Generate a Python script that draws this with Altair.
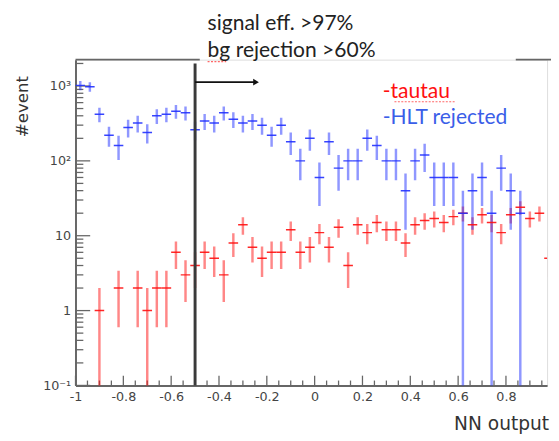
import altair as alt
import pandas as pd
import numpy as np

# ---------------- data ----------------
bin_centers = [-0.98, -0.94, -0.90, -0.86, -0.82, -0.78, -0.74, -0.70, -0.66, -0.62,
               -0.58, -0.54, -0.50, -0.46, -0.42, -0.38, -0.34, -0.30, -0.26, -0.22,
               -0.18, -0.14, -0.10, -0.06, -0.02, 0.02, 0.06, 0.10, 0.14, 0.18,
               0.22, 0.26, 0.30, 0.34, 0.38, 0.42, 0.46, 0.50, 0.54, 0.58,
               0.62, 0.66, 0.70, 0.74, 0.78, 0.82, 0.86, 0.90, 0.94, 0.98]
half_bin = 0.02

tautau = [0, 0, 1, 0, 2, 0, 2, 1, 2, 2,
          6, 3, 4, 6, 5, 3, 8, 14, 7, 5,
          6, 6, 12, 6, 7, 11, 7, 13, 4, 14,
          11, 15, 12, 12, 8, 14, 16, 17, 15, 18,
          20, 14, 19, 15, 11, 19, 24, 17, 20, 5]
tautau_err = [0, 0, 1, 0, 1.4, 0, 1.4, 1, 1.4, 1.4,
              2.4, 1.7, 2, 2.4, 2.2, 1.7, 2.8, 3.7, 2.6, 2.2,
              2.4, 2.4, 3.5, 2.4, 2.6, 3.3, 2.6, 3.6, 2, 3.7,
              3.3, 3.9, 3.5, 3.5, 2.8, 3.7, 4, 4.1, 3.9, 4.2,
              4.5, 3.7, 4.4, 3.9, 3.3, 4.4, 4.9, 4.1, 4.5, 2.2]

hlt = [1020, 980, 420, 220, 160, 280, 320, 240, 400, 420,
       460, 440, 260, 340, 320, 440, 360, 320, 340, 300,
       220, 300, 180, 100, 200, 60, 180, 80, 100, 100,
       200, 160, 100, 100, 40, 100, 120, 60, 60, 60,
       20, 40, 60, 20, 80, 40, 20, 0, 0, 0]
hlt_err = [143, 140, 92, 66, 57, 75, 80, 69, 89, 92,
           96, 94, 72, 82, 80, 94, 85, 80, 82, 77,
           66, 77, 60, 45, 63, 35, 60, 40, 45, 45,
           63, 57, 45, 45, 28, 45, 49, 35, 35, 35,
           20, 28, 35, 20, 40, 28, 20, 0, 0, 0]

series_names = ["tautau", "HLT rejected"]
series_colors = ["#ff1010", "#2030ff"]

x_major = [-1, -0.8, -0.6, -0.4, -0.2, 0, 0.2, 0.4, 0.6, 0.8]
x_minor = [-0.95, -0.9, -0.85, -0.75, -0.7, -0.65, -0.55, -0.5, -0.45, -0.35, -0.3, -0.25,
           -0.15, -0.1, -0.05, 0.05, 0.1, 0.15, 0.25, 0.3, 0.35, 0.45, 0.5, 0.55,
           0.65, 0.7, 0.75, 0.85, 0.9, 0.95]
y_major = [0.1, 1, 10, 100, 1000]
y_major_labels = ["10⁻¹", "1", "10", "10²", "10³"]
y_minor = [0.2, 0.3, 0.4, 0.5, 0.6, 0.7, 0.8, 0.9,
           2, 3, 4, 5, 6, 7, 8, 9,
           20, 30, 40, 50, 60, 70, 80, 90,
           200, 300, 400, 500, 600, 700, 800, 900, 2000]

cut_value = -0.5
arrow_end = -0.245

X_DOMAIN = [-1, 0.972]
Y_DOMAIN = [0.1, 2250]
W, H = 482, 333

# ---------------- tables ----------------
rows = []
for name, vals, errs in [(series_names[0], tautau, tautau_err), (series_names[1], hlt, hlt_err)]:
    for c, v, e in zip(bin_centers, vals, errs):
        if v > 0:
            lo = v - e
            rows.append({"series": name, "x": c, "xlo": c - half_bin, "xhi": c + half_bin,
                         "v": v, "lo": lo if lo > 0 else 0.01, "hi": v + e})
df = pd.DataFrame(rows)

xs = alt.Scale(domain=X_DOMAIN, nice=False, zero=False)
ys = alt.Scale(type="log", domain=Y_DOMAIN, nice=False)
col = alt.Color("series:N", scale=alt.Scale(domain=series_names, range=series_colors), legend=None)

label_expr = " : ".join(f"datum.value == {v} ? '{l}'" for v, l in zip(y_major, y_major_labels)) + " : ''"

x_axis = alt.Axis(values=x_major, labelExpr="toString(datum.value)", ticks=False, grid=False,
                  domainColor="#666", domainWidth=2, labelFont="DejaVu Sans", labelFontSize=13,
                  labelColor="#444", labelPadding=5, labelOverlap=False, labelFlush=False, title=None)
y_axis = alt.Axis(values=y_major, labelExpr=label_expr, ticks=False, grid=False,
                  domainColor="#666", domainWidth=2, labelFont="DejaVu Sans", labelFontSize=13,
                  labelColor="#444", labelPadding=5, labelOverlap=False, labelFlush=False, title=None)

base = alt.Chart(df)

vbars = base.mark_rule(clip=True, strokeWidth=2.5, opacity=0.5).encode(
    x=alt.X("x:Q", scale=xs, axis=x_axis),
    y=alt.Y("lo:Q", scale=ys, axis=y_axis),
    y2="hi:Q",
    color=col,
)
hbars = base.mark_rule(clip=True, strokeWidth=1.5, opacity=0.9).encode(
    x=alt.X("xlo:Q", scale=xs),
    x2="xhi:Q",
    y=alt.Y("v:Q", scale=ys),
    color=col,
)

tick_col = "#666"
xmaj = alt.Chart(pd.DataFrame({"t": x_major})).mark_rule(color=tick_col, strokeWidth=1.3).encode(
    x=alt.X("t:Q", scale=xs), y=alt.value(H), y2=alt.value(H - 10))
xmin = alt.Chart(pd.DataFrame({"t": x_minor})).mark_rule(color=tick_col, strokeWidth=1.3).encode(
    x=alt.X("t:Q", scale=xs), y=alt.value(H), y2=alt.value(H - 5))
ymaj = alt.Chart(pd.DataFrame({"t": y_major})).mark_rule(color=tick_col, strokeWidth=1.3).encode(
    y=alt.Y("t:Q", scale=ys), x=alt.value(0), x2=alt.value(15))
ymin = alt.Chart(pd.DataFrame({"t": y_minor})).mark_rule(color=tick_col, strokeWidth=1.3).encode(
    y=alt.Y("t:Q", scale=ys), x=alt.value(0), x2=alt.value(8))

# top frame pieces (partly hidden by the text box)
frame_df = pd.DataFrame({"a": [0, 450], "b": [127, W + 4]})
frame = alt.Chart(frame_df).mark_rule(color="#666", strokeWidth=2).encode(
    x=alt.X("a:Q", scale=None), x2="b:Q", y=alt.value(0))

cut = alt.Chart(pd.DataFrame({"c": [cut_value]})).mark_rule(color="#3a3a3a", strokeWidth=3).encode(
    x=alt.X("c:Q", scale=xs), y=alt.value(4), y2=alt.value(H))
arrow_df = pd.DataFrame({"a": [cut_value], "b": [arrow_end]})
arrow = alt.Chart(arrow_df).mark_rule(color="#111", strokeWidth=2).encode(
    x=alt.X("a:Q", scale=xs), x2="b:Q", y=alt.value(23))
arrow_head = alt.Chart(pd.DataFrame({"b": [arrow_end]})).mark_point(
    shape="triangle-right", filled=True, size=45, color="#111", opacity=1).encode(
    x=alt.X("b:Q", scale=xs), y=alt.value(23))


def txt(s, x, y, size, color, font="Lato", align="left", angle=0, baseline="alphabetic"):
    return alt.Chart(pd.DataFrame({"s": [s]})).mark_text(
        align=align, baseline=baseline, font=font, fontSize=size, color=color, angle=angle
    ).encode(text="s:N", x=alt.value(x), y=alt.value(y))


t1 = txt("signal eff. >97%", 135, -30, 21.5, "#222")
t2 = txt("bg rejection >60%", 135, -3, 21.5, "#222")
l1 = txt("-tautau", 314, 39, 21.5, "#ff1010")
l2 = txt("-HLT rejected", 314, 66, 21.5, "#3a5ee8")
ytitle = txt("#event", -54, 48, 17, "#333", font="DejaVu Sans", align="center", angle=270, baseline="middle")
xtitle = txt("NN output", 484, 379, 19, "#333", font="DejaVu Sans", align="right")

squig_df = pd.DataFrame({"a": [326, 135], "b": [388, 154], "yy": [43, 2]})
squig = alt.Chart(squig_df).mark_rule(color="#ff4040", strokeWidth=1.2, strokeDash=[2, 1.5], opacity=0.8).encode(
    x=alt.X("a:Q", scale=None), x2="b:Q", y=alt.Y("yy:Q", scale=None))

chart = alt.layer(
    xmin, xmaj, ymin, ymaj, vbars, hbars, cut, arrow, arrow_head, frame, squig,
    t1, t2, l1, l2, ytitle, xtitle
).properties(
    width=W, height=H,
    autosize=alt.AutoSizeParams(type="none"),
    padding={"left": 69, "top": 48, "right": 4, "bottom": 52},
).configure_view(stroke=None).configure(background="white")

chart.save("out.html", embed_options={"renderer": "svg", "actions": False})
